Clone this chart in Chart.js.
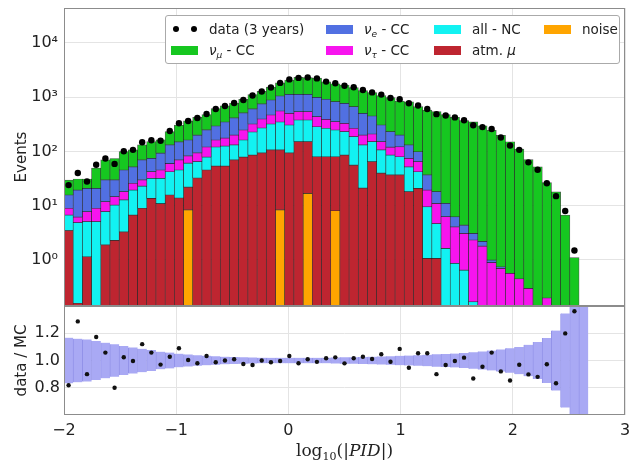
<!DOCTYPE html>
<html>
<head>
<meta charset="utf-8">
<script src="https://cdn.jsdelivr.net/npm/chart.js@4.4.1/dist/chart.umd.min.js"></script>
<style>
  body { margin: 0; background: #fff; }
  #wrap { position: relative; width: 630px; height: 461px; font-family: 'DejaVu Sans', sans-serif; color: #222; }
  #legend { position: absolute; width: 453px; height: 47px; border: 1px solid #aaa; border-radius: 3px; background: #fff; font-size: 13.5px; }
  .item { position: absolute; white-space: nowrap; line-height: 16px; }
  .patch { position: absolute; width: 27px; height: 9px; }
  .dot { position: absolute; width: 6px; height: 6px; border-radius: 50%; background: #000; }
  .item sub { font-size: 9px; vertical-align: -3px; font-style: italic; }
  #xtitle { position: absolute; font-family: 'DejaVu Serif', serif; font-size: 17px; transform: translateX(-50%); white-space: nowrap; }
  #xtitle sub { font-size: 11px; vertical-align: -4px; }
</style>
</head>
<body>
<div id="wrap">
  <canvas id="c" width="630" height="461"></canvas>
  <div id="legend"></div>
  <div id="xtitle">log<sub>10</sub>(|<i>PID</i>|)</div>
</div>
<script>
"use strict";
// histogram bins: 61 equal bins from -2 to 3, only the first 57 are filled
var binLow = -2, binWidth = 5 / 61;

var noise   = [0,0,0,0,0,0,0,0,0,0,0,0,0,8.4,0,0,0,0,0,0,0,0,0,8.4,0,0,16.9,0,0,8.1,0,0,0,0,0,0,0,0,0,0,0,0,0,0,0,0,0,0,0,0,0,0,0,0,0,0,0];
var atmMu   = [3.5,0.16,1.15,0,1.9,2.3,3.3,6.75,9,13.7,11,15.8,13.9,13.6,32.5,45.6,54,54,70,79,86,94,107,98.6,94,152,135,80,80,71.9,86,56,21.2,65,39.8,37,37,18.2,21,1.07,1.07,0,0,0,0,0,0,0,0,0,0,0,0,0,0,0,0];
var allNC   = [3.25,4.74,3.95,5.1,5.9,8,9.5,12.75,14,18.3,21,26.6,31.7,39,32.5,33.4,67,72,62,84,143,177,214,243,214,229,229,206,188,169,146,132,110.8,87,67.2,49,43,33.8,21.4,8.5,3.6,1.64,0.87,0.65,0.17,0,0,0,0,0,0,0,0,0,0,0,0];
var nuTauCC = [2.25,1.3,2.7,3.9,4.1,4.4,5.4,6.5,7,10.5,13.6,17.6,24.4,22,29,42,42,51,69,86,92,126,150,208,198,161,161,152,124,105,99,80,69,58,45,34,42,23,22.6,9.9,6.4,4.66,3.2,2.45,2.17,1.8,0.9,0.7,0.57,0.45,0.3,0,0.2,0,0,0,0];
var nuECC   = [6.8,13.3,13.2,12,18.1,15.3,27.4,26,40,32.5,47.4,72,80,80,106,129,132,173,214,264,287,355,418,496,627,591,591,560,526,474,442,402,305,241,156,112,79,57,34,17.5,7.1,4.8,2.2,1.3,0.76,0.4,0.1,0.05,0,0,0,0,0,0,0,0,0];
var nuMuCC  = [13.7,11.5,10,28,40,44,53.4,55,62,77,70,100,154,201,222,225,320,340,361,400,505,524,644,785,924,1178,1159,1240,988,937,887,831,817,760,758,745,643,684,570,539,523,466,420,364,347,293,244,196,150,110,70,51.8,26.4,17.9,6.7,1.1,0];
var dataCounts = [24,40,28,57,74,59,101,107,148,161,158,238,331,365,414,491,607,690,783,889,1076,1276,1513,1832,2125,2265,2313,2218,1936,1806,1625,1525,1360,1224,1115,968,916,773,704,607,487,461,424,376,304,281,259,181,129,107,63,46,26,15,8,1.5,null];
var ratio   = [0.818,1.287,0.9,1.172,1.058,0.8,1.024,0.996,1.12,1.058,0.97,1.028,1.09,1.004,0.98,1.033,0.987,1.0,1.009,0.974,0.967,1.0,0.987,0.996,1.033,0.98,1.009,0.99,1.016,1.023,0.979,1.016,1.028,1.011,1.046,0.991,1.085,0.947,1.053,1.053,0.9,0.967,0.996,1.021,0.868,0.954,1.058,0.92,0.853,0.969,0.898,0.88,0.972,0.833,1.199,1.362,null];
var ratioErr = [0.167,0.16,0.154,0.143,0.131,0.119,0.107,0.096,0.086,0.077,0.065,0.058,0.05,0.044,0.039,0.035,0.031,0.028,0.026,0.024,0.022,0.021,0.02,0.02,0.02,0.02,0.02,0.02,0.021,0.022,0.023,0.024,0.026,0.028,0.03,0.032,0.034,0.036,0.039,0.042,0.045,0.048,0.051,0.055,0.06,0.066,0.073,0.081,0.09,0.1,0.115,0.135,0.165,0.22,0.345,0.5,0.55];

var eventTicks = [1, 10, 100, 1000, 10000];
var ratioTicks = [0.8, 1.0, 1.2];

var FONT = "'DejaVu Sans', sans-serif";
Chart.defaults.font.family = FONT;
Chart.defaults.color = '#222';

// log axis can't start a bar at 0, so the stack starts below the axis and gets clipped
var histFloor = 0.01;

var centers = nuMuCC.map((v, i) => binLow + (i + 0.5) * binWidth);

// stacking order, bottom first
var layers = [
    {key: 'noise',  values: noise,   color: '#ffa500', html: 'noise'},
    {key: 'atm',    values: atmMu,   color: '#be2530', html: 'atm. <i>μ</i>'},
    {key: 'nc',     values: allNC,   color: '#12f2f2', html: 'all - NC'},
    {key: 'nutau',  values: nuTauCC, color: '#f714ee', html: '<i>ν</i><sub>τ</sub> - CC'},
    {key: 'nue',    values: nuECC,   color: '#5170e2', html: '<i>ν</i><sub>e</sub> - CC'},
    {key: 'numu',   values: nuMuCC,  color: '#16c720', html: '<i>ν</i><sub>μ</sub> - CC'}
];

var running = centers.map(() => 0);
var barSets = layers.map(l => {
    var pts = [];
    l.values.forEach((v, i) => {
        if (v > 0) pts.push({x: centers[i], y: [Math.max(running[i], histFloor), running[i] + v]});
        running[i] += v;
    });
    return {
        type: 'bar', label: l.key, data: pts, yAxisID: 'y',
        backgroundColor: l.color, borderColor: 'rgba(10,10,10,0.7)', borderWidth: 0.7,
        borderSkipped: false, inflateAmount: 0.4, grouped: false, barPercentage: 1, categoryPercentage: 1
    };
});

var dataPts = [], ratioPts = [], bandPts = [];
centers.forEach((x, i) => {
    if (dataCounts[i] != null) dataPts.push({x: x, y: dataCounts[i]});
    if (ratio[i] != null) ratioPts.push({x: x, y: ratio[i]});
    bandPts.push({x: x, y: [1 - ratioErr[i], 1 + ratioErr[i]]});
});

// keep every dataset inside its own panel
var clipToPanel = {
    id: 'clipToPanel',
    beforeDatasetDraw(chart, args) {
        var s = chart.scales[args.meta.yAxisID], a = chart.chartArea, ctx = chart.ctx;
        ctx.save();
        ctx.beginPath();
        ctx.rect(a.left, s.top, a.right - a.left, s.bottom - s.top);
        ctx.clip();
    },
    afterDatasetDraw(chart) { chart.ctx.restore(); }
};

var panelFrames = {
    id: 'panelFrames',
    afterDatasetsDraw(chart) {
        var ctx = chart.ctx, a = chart.chartArea;
        ctx.save();
        ctx.strokeStyle = '#8c8c8c';
        ctx.lineWidth = 1;
        ['y', 'yr'].forEach(id => {
            var s = chart.scales[id];
            ctx.strokeRect(Math.round(a.left) + 0.5, Math.round(s.top) + 0.5,
                Math.round(a.right - a.left) - 1, Math.round(s.bottom - s.top) - 1);
        });
        ctx.restore();
    }
};

// fixed axis boxes, no extra room for overhanging tick labels
function fixBox(w, h) {
    return s => {
        if (w) s.width = w;
        if (h) s.height = h;
        s.paddingTop = 0; s.paddingBottom = 0; s.paddingLeft = 0; s.paddingRight = 0;
    };
}

var SUP = {'0': '\u2070', '1': '\u00b9', '2': '\u00b2', '3': '\u00b3', '4': '\u2074'};
var tickFont = {size: 16, family: FONT};
var gridCol = '#e4e4e4';

var chart = new Chart(document.getElementById('c'), {
    type: 'bar',
    data: {
        datasets: [
            {type: 'scatter', data: dataPts, yAxisID: 'y', pointRadius: 3.2, backgroundColor: '#000', borderWidth: 0},
            {type: 'scatter', data: ratioPts, yAxisID: 'yr', pointRadius: 2.2, backgroundColor: '#111', borderWidth: 0},
            {type: 'bar', data: bandPts, yAxisID: 'yr', backgroundColor: '#a9a9f4', borderColor: '#8d8de6',
             borderWidth: {left: 0.8, right: 0, top: 0, bottom: 0}, borderSkipped: false, inflateAmount: 0.4,
             grouped: false, barPercentage: 1, categoryPercentage: 1}
        ].concat(barSets.slice().reverse())
    },
    options: {
        responsive: false,
        animation: false,
        devicePixelRatio: 1,
        layout: {padding: {top: 8, right: 5, left: 0, bottom: 0}},
        plugins: {legend: {display: false}, tooltip: {enabled: false}},
        scales: {
            x: {
                type: 'linear', min: -2, max: 3, offset: false,
                ticks: {stepSize: 1, font: tickFont, padding: 6,
                        callback: v => v < 0 ? '\u2212' + (-v) : '' + v},
                grid: {color: gridCol, drawTicks: false, offset: false},
                border: {display: false},
                afterFit: fixBox(0, 46)
            },
            // the stack places later scales on top, so the ratio panel comes first here
            yr: {
                type: 'linear', position: 'left', stack: 'panels', stackWeight: 109,
                min: 0.6, max: 1.4,
                afterBuildTicks: s => { s.ticks = ratioTicks.map(v => ({value: v})); },
                ticks: {font: tickFont, padding: 4, callback: v => v.toFixed(1)},
                grid: {color: gridCol, drawTicks: false},
                border: {display: false},
                title: {display: true, text: 'data / MC', font: {size: 15, family: FONT}, padding: {top: 13, bottom: 0}},
                afterFit: fixBox(64, 0)
            },
            y: {
                type: 'logarithmic', position: 'left', stack: 'panels', stackWeight: 298,
                min: 0.142, max: 44000,
                afterBuildTicks: s => { s.ticks = eventTicks.map(v => ({value: v})); },
                ticks: {font: tickFont, padding: 6,
                        callback: v => '10' + SUP[Math.round(Math.log10(v))]},
                grid: {color: gridCol, drawTicks: false},
                border: {display: false},
                title: {display: true, text: 'Events', font: {size: 15, family: FONT}, padding: {top: 13, bottom: 0}},
                afterFit: fixBox(64, 0)
            }
        }
    },
    plugins: [clipToPanel, panelFrames]
});

// legend (matplotlib style, four columns filled top to bottom)
var byKey = {};
layers.forEach(l => { byKey[l.key] = l; });
var legendCols = [['data', 'numu'], ['nue', 'nutau'], ['nc', 'atm'], ['noise']];
var colX = [5, 160, 268, 378];
var rowY = [13, 34];
var legend = document.getElementById('legend');
var area = chart.chartArea;
legend.style.left = (area.left + 101) + 'px';
legend.style.top = (area.top + 7) + 'px';
legendCols.forEach((col, c) => {
    col.forEach((key, r) => {
        var y = rowY[r];
        if (key === 'data') {
            [10, 28].forEach(cx => {
                var d = document.createElement('div');
                d.className = 'dot';
                d.style.left = (cx - 3) + 'px';
                d.style.top = (y - 3) + 'px';
                legend.appendChild(d);
            });
        } else {
            var p = document.createElement('div');
            p.className = 'patch';
            p.style.left = colX[c] + 'px';
            p.style.top = (y - 4.5) + 'px';
            p.style.background = byKey[key].color;
            legend.appendChild(p);
        }
        var t = document.createElement('div');
        t.className = 'item';
        t.style.left = (colX[c] + 38) + 'px';
        t.style.top = (y - 8) + 'px';
        t.innerHTML = key === 'data' ? 'data (3 years)' : byKey[key].html;
        legend.appendChild(t);
    });
});

var xt = document.getElementById('xtitle');
xt.style.left = ((area.left + area.right) / 2) + 'px';
xt.style.top = (area.bottom + 25) + 'px';
</script>
</body>
</html>
